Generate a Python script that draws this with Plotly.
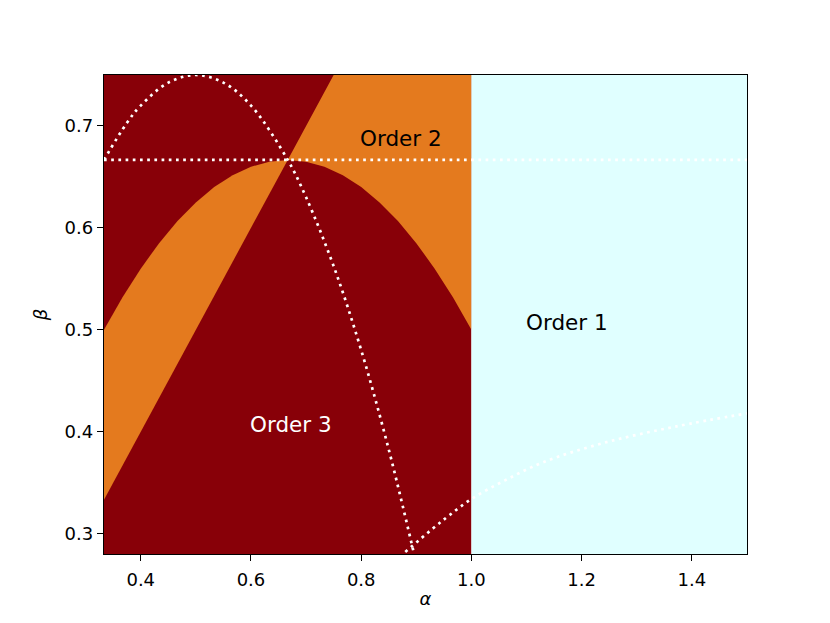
import plotly.graph_objects as go

# ---------------------------------------------------------------
# data: phase boundaries
# ---------------------------------------------------------------
ALPHA_MIN, ALPHA_MAX = 1 / 3, 1.5
BETA_MIN, BETA_MAX = 0.28, 0.75

# dome-shaped boundary between Order 2 and Order 3
DOME_ALPHA = [0.3333, 0.3667, 0.4, 0.4333, 0.4667, 0.5, 0.5333, 0.5667, 0.6, 0.6333,
              0.6667, 0.7, 0.7333, 0.7667, 0.8, 0.8333, 0.8667, 0.9, 0.9333, 0.9667, 1.0]
DOME_BETA = [0.5, 0.5317, 0.56, 0.585, 0.6067, 0.625, 0.64, 0.6517, 0.66, 0.665,
             0.6667, 0.665, 0.66, 0.6517, 0.64, 0.625, 0.6067, 0.585, 0.56, 0.5317, 0.5]

# diagonal boundary (beta = alpha)
DIAG_ALPHA = [0.3333, 0.6667, 0.75]
DIAG_BETA = [0.3333, 0.6667, 0.75]

# white dotted guide curves
ARC_ALPHA = [0.3333, 0.375, 0.4, 0.45, 0.5, 0.55, 0.6, 0.6667, 0.7, 0.75, 0.8, 0.85, 0.8954]
ARC_BETA = [0.6667, 0.7031, 0.72, 0.7425, 0.75, 0.7425, 0.72, 0.6667, 0.63, 0.5625, 0.48, 0.3825, 0.2812]

FLAT_ALPHA = [0.3333, 1.5]
FLAT_BETA = [0.6667, 0.6667]

LOW_ALPHA = [0.88, 0.93, 0.96, 1.0, 1.06, 1.13, 1.24, 1.37, 1.5]
LOW_BETA = [0.282, 0.305, 0.318, 0.334, 0.352, 0.370, 0.389, 0.405, 0.418]

ORDER1_EDGE = 1.0  # alpha >= 1 -> Order 1

LABELS = ["Order 1", "Order 2", "Order 3"]
LABEL_ALPHA = [1.1, 0.8, 0.6]
LABEL_BETA = [0.5, 0.68, 0.4]
LABEL_COLORS = ["black", "black", "white"]

DARKRED = "#880008"
ORANGE = "#e47a1e"
CYAN = "#e0ffff"
FONT = "DejaVu Sans"

fig = go.Figure()


def region(xs, ys, color):
    fig.add_trace(go.Scatter(x=xs, y=ys, fill="toself", fillcolor=color,
                             mode="lines", line=dict(width=0), hoverinfo="skip"))


# Order 3 background (alpha < 1)
region([ALPHA_MIN, ORDER1_EDGE, ORDER1_EDGE, ALPHA_MIN],
       [BETA_MIN, BETA_MIN, BETA_MAX, BETA_MAX], DARKRED)

# Order 2: band between dome and diagonal, left of the crossing
mid = DOME_ALPHA.index(0.6667)
region(DOME_ALPHA[:mid + 1] + DIAG_ALPHA[:2][::-1],
       DOME_BETA[:mid + 1] + DIAG_BETA[:2][::-1], ORANGE)

# Order 2: wedge above the dome, right of the diagonal
region(DOME_ALPHA[mid:] + [ORDER1_EDGE, DIAG_ALPHA[2], DIAG_ALPHA[1]],
       DOME_BETA[mid:] + [BETA_MAX, DIAG_BETA[2], DIAG_BETA[1]], ORANGE)

# Order 1 (alpha >= 1)
region([ORDER1_EDGE, ALPHA_MAX, ALPHA_MAX, ORDER1_EDGE],
       [BETA_MIN, BETA_MIN, BETA_MAX, BETA_MAX], CYAN)

# dotted guides
for xs, ys, shape in [(ARC_ALPHA, ARC_BETA, "spline"),
                      (FLAT_ALPHA, FLAT_BETA, "linear"),
                      (LOW_ALPHA, LOW_BETA, "spline")]:
    fig.add_trace(go.Scatter(x=xs, y=ys, mode="lines", line_shape=shape,
                             line=dict(color="white", width=2.7, dash="2.7px,4.5px"),
                             hoverinfo="skip"))

for txt, a, b, c in zip(LABELS, LABEL_ALPHA, LABEL_BETA, LABEL_COLORS):
    fig.add_annotation(x=a, y=b, text=txt, showarrow=False, xanchor="left",
                       yanchor="bottom", yshift=-7, xshift=-3,
                       font=dict(family=FONT, size=21.5, color=c))

axis_style = dict(showline=True, mirror=True, linecolor="black", linewidth=1.4,
                  ticks="outside", ticklen=6, tickwidth=1.4, tickcolor="black",
                  showgrid=False, zeroline=False,
                  tickfont=dict(family=FONT, size=18, color="black"))

fig.update_xaxes(range=[ALPHA_MIN, ALPHA_MAX], tickvals=[0.4, 0.6, 0.8, 1.0, 1.2, 1.4],
                 ticktext=["0.4", "0.6", "0.8", "1.0", "1.2", "1.4"],
                 ticklabelstandoff=3,
                 title=dict(text="<i>α</i>", standoff=3,
                            font=dict(family=FONT, size=18, color="black")),
                 **axis_style)
fig.update_yaxes(range=[BETA_MIN, BETA_MAX], tickvals=[0.3, 0.4, 0.5, 0.6, 0.7],
                 ticktext=["0.3", "0.4", "0.5", "0.6", "0.7"],
                 title=dict(text="<i>β</i>", standoff=12,
                            font=dict(family=FONT, size=18, color="black")),
                 **axis_style)

# the page body adds ~8px around the figure, so margins are shifted to compensate
fig.update_layout(width=830, height=623, showlegend=False,
                  margin=dict(l=96, r=91, t=67, b=77),
                  plot_bgcolor="white", paper_bgcolor="white",
                  font=dict(family=FONT))

fig.write_html("out.html")
